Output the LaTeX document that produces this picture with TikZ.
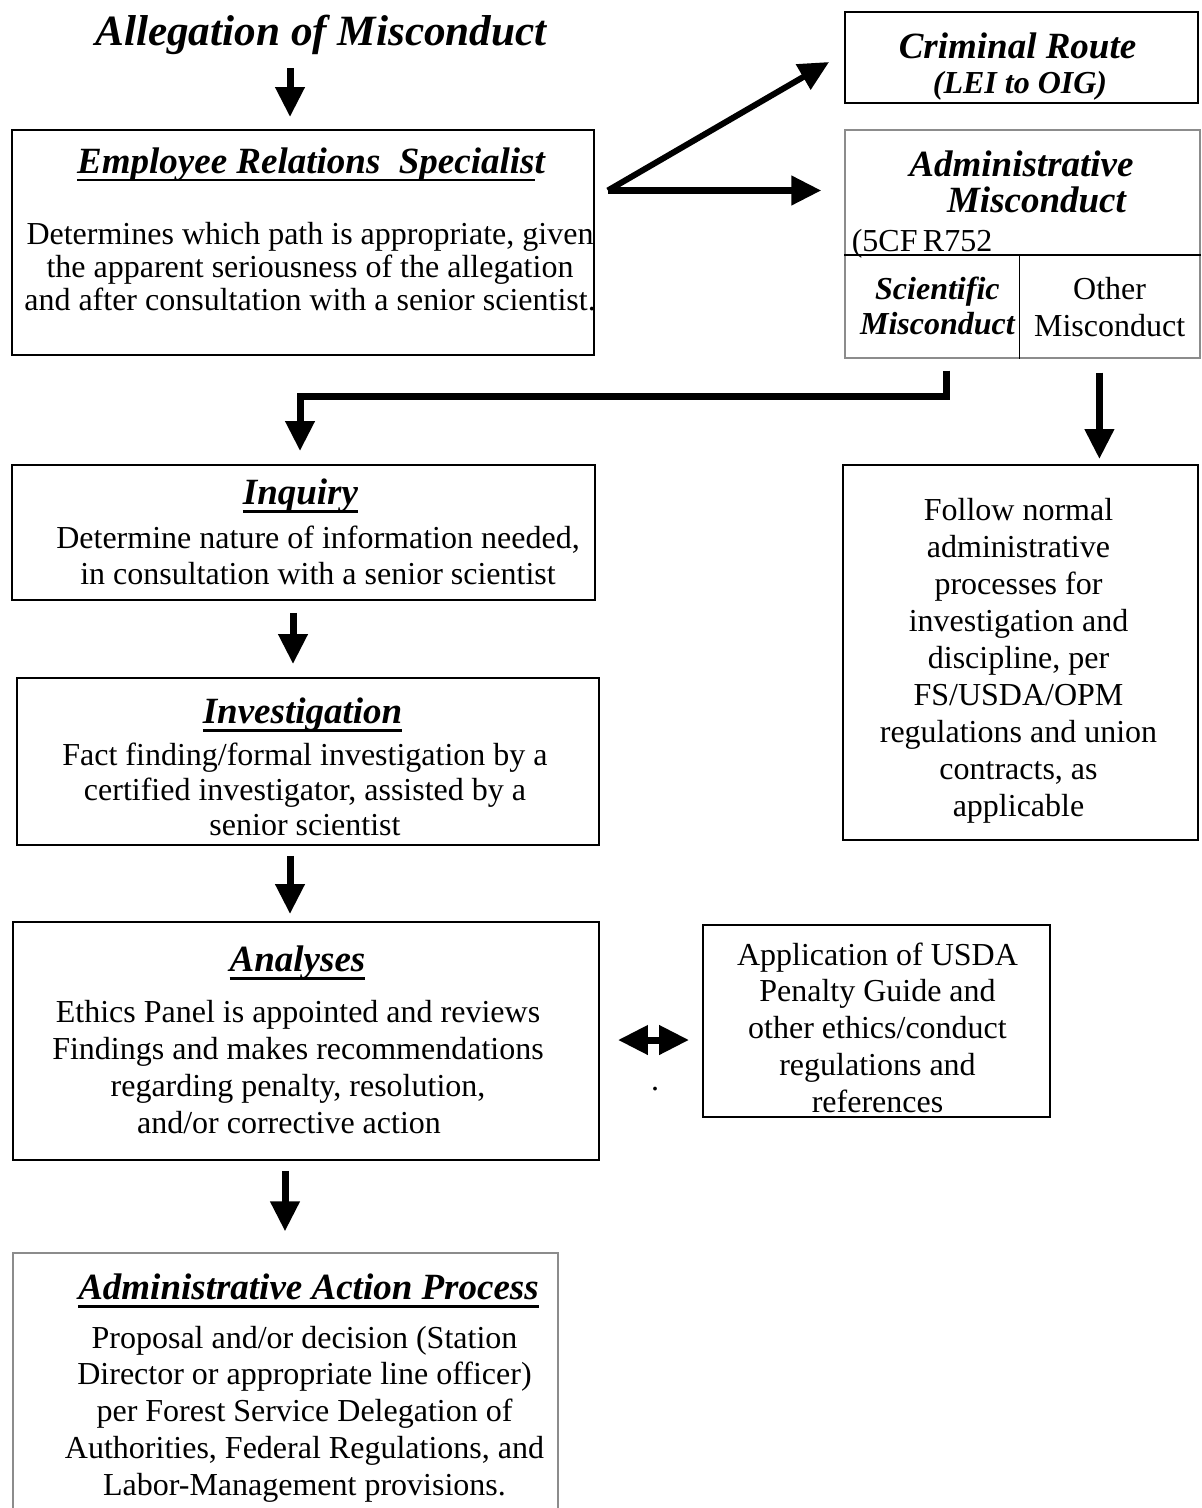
\documentclass[tikz,border=0pt]{standalone}
\usepackage{fontspec}
\setmainfont{Liberation Serif}
\usetikzlibrary{positioning,arrows.meta}

% underlined heading text
\newsavebox\ulsave
\newcommand\hdul[1]{\sbox\ulsave{#1}\rlap{\rule[-4.2pt]{\wd\ulsave}{1.4pt}}\usebox\ulsave}

\begin{document}
\begin{tikzpicture}[
    x=0.5pt, y=-0.5pt,
    >={Triangle[length=15pt,width=14pt]},
    box/.style={draw=black, line width=0.9pt, inner sep=0pt},
    greybox/.style={draw=black!45, line width=0.6pt, inner sep=0pt},
    hd/.style={font=\fontsize{18.5}{18}\selectfont\bfseries\itshape, inner sep=0pt},
    subhd/.style={font=\fontsize{16}{17.5}\selectfont\bfseries\itshape, inner sep=0pt, align=center},
    txt/.style={font=\fontsize{16}{18.4}\selectfont, inner sep=0pt, align=center},
    arr/.style={->, line width=3.5pt}
]
\useasboundingbox (0,0) rectangle (1202,1508);

% --- Start of the process ---
\node[hd, anchor=base, font=\fontsize{21.6}{24}\selectfont\bfseries\itshape] (alleg) at (321,46) {Allegation of Misconduct};

% --- Employee Relations Specialist ---
\node[box, minimum width=291pt, minimum height=112.5pt] (er) at (303,242.5) {};
\node[hd, anchor=base] (erH) at ([xshift=4pt, yshift=-22pt]er.north) {\hdul{Employee Relations~~Specialis}t};
\node[txt, anchor=north, font=\fontsize{16}{16.5}\selectfont] (erB) at ([xshift=3.5pt, yshift=-46.5pt]er.north)
    {Determines which path is appropriate, given\\the apparent seriousness of the allegation\\and after consultation with a senior scientist.};

% --- Right column: the two routes ---
\node[box, minimum width=176.5pt, minimum height=45.5pt] (crim) at (1021.5,57.5) {};
\node[hd, anchor=base] (crimH) at ([xshift=-2pt, yshift=-23.5pt]crim.north) {Criminal Route};
\node[hd, anchor=base, font=\fontsize{16}{18}\selectfont\bfseries\itshape] (crimB) at ([xshift=-0.75pt, yshift=-41pt]crim.north) {(LEI to OIG)};

\node[greybox, minimum width=177.5pt, minimum height=114pt] (adm) at (1022.5,244) {};
\node[hd, align=center, anchor=north] (admH) at ([xshift=-0.5pt, yshift=-10.75pt]adm.north)
    {Administrative\\\rule{15pt}{0pt}Misconduct};
\node[txt, anchor=base west] (cfr) at ([xshift=3.5pt, yshift=-61pt]adm.north west) {(5CF\,R752};
\coordinate (admL) at ([yshift=-63pt]adm.north west);
\coordinate (admR) at ([yshift=-63pt]adm.north east);
\coordinate (admV) at ([xshift=87.5pt]adm.south west);
\draw[line width=0.9pt] (admL) -- (admR);
\draw[line width=0.9pt] (admV) -- (admV |- admL);
\node[subhd, anchor=north] (sci) at ([xshift=46.5pt, yshift=41pt]adm.south west) {Scientific\\Misconduct};
\node[txt, anchor=north, font=\fontsize{16}{18.5}\selectfont] (oth) at ([xshift=-45.5pt, yshift=41pt]adm.south east) {Other\\Misconduct};

\node[box, minimum width=177.5pt, minimum height=187.5pt] (fol) at (1020.5,652.5) {};
\node[txt, anchor=north, font=\fontsize{16}{18.5}\selectfont] (folB) at ([xshift=-1pt, yshift=-17pt]fol.north)
    {Follow normal\\administrative\\processes for\\investigation and\\discipline, per\\FS/USDA/OPM\\regulations and union\\contracts, as\\applicable};

% --- Left column: scientific misconduct steps ---
\node[box, minimum width=291.5pt, minimum height=67.5pt] (inq) at (303.5,532.5) {};
\node[hd, anchor=base] (inqH) at ([xshift=-1.5pt, yshift=-20pt]inq.north) {\hdul{Inquiry}};
\node[txt, anchor=north] (inqB) at ([xshift=7.25pt, yshift=-30.5pt]inq.north)
    {Determine nature of information needed,\\in consultation with a senior scientist};

\node[box, minimum width=291pt, minimum height=83.5pt] (inv) at (308,761.5) {};
\node[hd, anchor=base] (invH) at ([xshift=-2.75pt, yshift=-23pt]inv.north) {\hdul{Investigation}};
\node[txt, anchor=north, font=\fontsize{16}{17.5}\selectfont] (invB) at ([xshift=-1.5pt, yshift=-32.5pt]inv.north)
    {Fact finding/formal investigation by a\\certified investigator, assisted by a\\senior scientist};

\node[box, minimum width=293pt, minimum height=119pt] (ana) at (306,1041) {};
\node[hd, anchor=base] (anaH) at ([xshift=-4.25pt, yshift=-25pt]ana.north) {\hdul{Analyses}};
\node[txt, anchor=north] (anaB) at ([xshift=-4pt, yshift=-39.5pt]ana.north)
    {Ethics Panel is appointed and reviews\\Findings and makes recommendations\\regarding penalty, resolution,\\and/or corrective action\rule{9pt}{0pt}};

\node[box, minimum width=173.5pt, minimum height=96pt] (app) at (876.5,1021) {};
\node[txt, anchor=north] (appB) at ([xshift=0.5pt, yshift=-9pt]app.north)
    {Application of USDA\\Penalty Guide and\\other ethics/conduct\\regulations and\\references};
\node[txt, anchor=base] (dot) at (655,1090) {.};

\node[greybox, minimum width=272.5pt, minimum height=128.5pt] (act) at (285.5,1381.5) {};
\node[hd, anchor=base] (actH) at ([xshift=11.5pt, yshift=-23.5pt]act.north) {\hdul{Administrative Action Process}};
\node[txt, anchor=north] (actB) at ([xshift=9.5pt, yshift=-36.5pt]act.north)
    {Proposal and/or decision (Station\\Director or appropriate line officer)\\per Forest Service Delegation of\\Authorities, Federal Regulations, and\\Labor-Management provisions.};

% --- Connectors ---
\coordinate (a0) at ([xshift=-6.5pt]er.north);
\draw[arr, shorten <=6.25pt, shorten >=6pt] (a0 |- alleg.south) -- (a0);

\coordinate (fork) at ([xshift=6.5pt, yshift=26pt]er.east);
\draw[arr, line width=3pt] (fork) -- ([xshift=-7.5pt, yshift=-2.25pt]crim.west);
\draw[arr, shorten >=11.5pt] (fork) -- (fork -| adm.west);

\coordinate (sciFoot) at ([xshift=-36.5pt]admV);
\coordinate (bendC) at ([xshift=-1.75pt, yshift=34pt]inq.north);
\draw[arr, shorten <=6pt, shorten >=6.5pt] (sciFoot) |- (bendC) -- (bendC |- inq.north);

\coordinate (othFoot) at ([xshift=40pt]admV);
\draw[arr, shorten <=7pt, shorten >=2.5pt] (othFoot) -- (othFoot |- fol.north);

\coordinate (c2) at ([xshift=-5.25pt]inq.south);
\draw[arr, shorten <=6pt, shorten >=6.5pt] (c2) -- (c2 |- inv.north);
\coordinate (c3) at ([xshift=-9pt]inv.south);
\draw[arr, shorten <=5pt, shorten >=3.5pt] (c3) -- (c3 |- ana.north);
\coordinate (c4) at ([xshift=-10.5pt]ana.south);
\draw[arr, shorten <=5pt, shorten >=10.5pt] (c4) -- (c4 |- act.north);

\coordinate (c5) at ([yshift=0.5pt]ana.east);
\draw[arr, <->, shorten <=9pt, shorten >=6.5pt] (c5) -- (c5 -| app.west);

\end{tikzpicture}
\end{document}
